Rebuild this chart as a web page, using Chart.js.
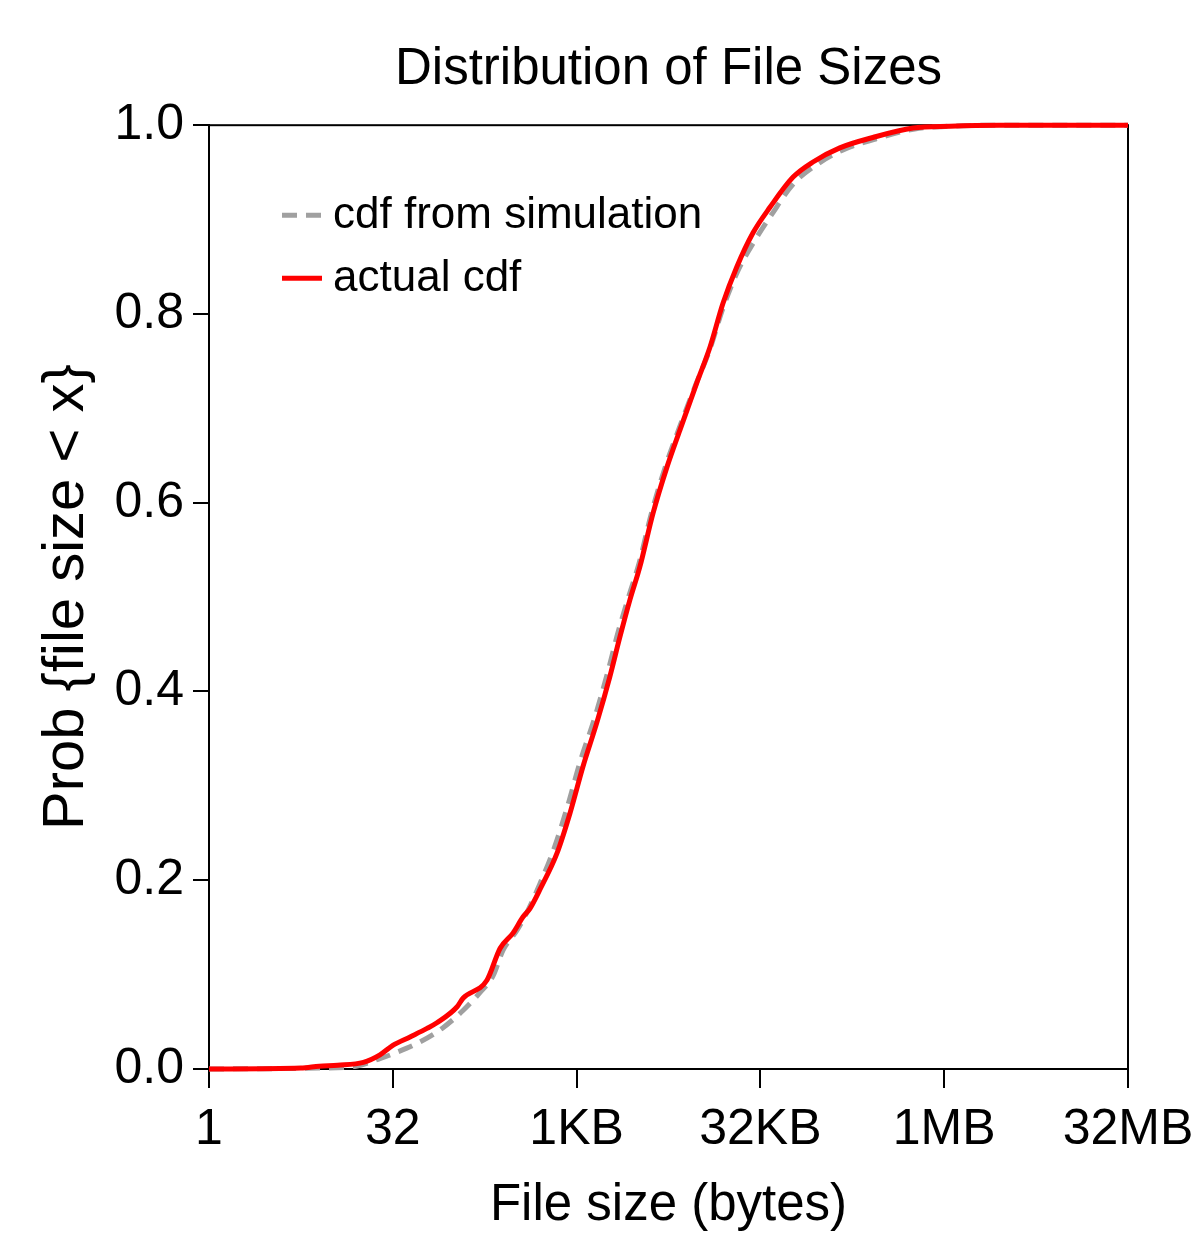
<!DOCTYPE html>
<html>
<head>
<meta charset="utf-8">
<title>Distribution of File Sizes</title>
<script src="https://cdn.jsdelivr.net/npm/chart.js@4.4.1/dist/chart.umd.min.js"></script>
<style>
    html, body { margin: 0; padding: 0; background: #fff; }
    #wrap { width: 1196px; height: 1236px; position: relative; }
</style>
</head>
<body>
<div id="wrap"><canvas id="cdfChart"></canvas></div>
<script>
// x values are log2(file size in bytes)
const tickExp = [0, 5, 10, 15, 20, 25];
const tickLabels = ['1', '32', '1KB', '32KB', '1MB', '32MB'];

// actual cdf (red)
const actualLog2 = [0, 2.5, 3.0, 3.5, 4.2, 4.65, 5.0, 5.47, 5.93, 6.2, 6.75, 6.91, 7.56, 7.92, 8.27, 8.54, 8.73, 9.0, 9.47, 9.82, 10.17, 10.55, 10.9, 11.18, 11.45, 11.72, 12.08, 12.46, 12.81, 13.27, 13.63, 13.98, 14.36, 14.8, 15.26, 15.89, 16.43, 17.16, 18.06, 19.15, 20.16, 21.5, 25];
const actualCdf = [0, 0.001, 0.003, 0.004, 0.007, 0.015, 0.025, 0.034, 0.043, 0.049, 0.066, 0.075, 0.094, 0.128, 0.144, 0.161, 0.170, 0.19, 0.229, 0.271, 0.320, 0.367, 0.415, 0.458, 0.497, 0.532, 0.589, 0.638, 0.677, 0.727, 0.765, 0.811, 0.85, 0.886, 0.913, 0.945, 0.961, 0.976, 0.987, 0.997, 0.999, 1.0, 1.0];

// cdf from simulation (grey dashed)
const simLog2 = [0, 3.0, 4.0, 4.65, 5.0, 5.71, 6.34, 6.91, 7.37, 7.73, 8.0, 8.38, 8.7, 9.0, 9.4, 9.75, 10.1, 10.5, 10.85, 11.13, 11.42, 11.7, 12.05, 12.43, 12.78, 13.24, 13.62, 13.98, 14.38, 14.85, 15.3, 15.9, 16.45, 17.2, 18.1, 19.2, 20.2, 21.5, 25];
const simCdf = [0, 0.001, 0.003, 0.011, 0.016, 0.028, 0.043, 0.062, 0.081, 0.099, 0.126, 0.147, 0.17, 0.196, 0.235, 0.278, 0.326, 0.373, 0.421, 0.463, 0.501, 0.536, 0.591, 0.640, 0.678, 0.725, 0.762, 0.806, 0.845, 0.878, 0.905, 0.938, 0.956, 0.973, 0.985, 0.996, 0.999, 1.0, 1.0];

const FONT = '"Liberation Sans", Arial, sans-serif';

function toPoints(xs, ys) {
    return xs.map((x, i) => ({ x: x, y: ys[i] }));
}

// box round the plot area
const framePlugin = {
    id: 'frame',
    beforeDatasetsDraw(chart) {
        const { ctx, chartArea: a } = chart;
        ctx.save();
        ctx.strokeStyle = '#000';
        ctx.lineWidth = 2;
        ctx.strokeRect(a.left, a.top, a.right - a.left, a.bottom - a.top);
        ctx.restore();
    }
};

// legend drawn inside the plot, top left
const insideLegend = {
    id: 'insideLegend',
    afterDatasetsDraw(chart) {
        const { ctx, chartArea: a } = chart;
        const rows = [chart.data.datasets[0], chart.data.datasets[1]];
        ctx.save();
        ctx.font = '44px ' + FONT;
        ctx.textBaseline = 'middle';
        ctx.fillStyle = '#000';
        rows.forEach((ds, i) => {
            const y = a.top + 90 + i * 63;
            ctx.strokeStyle = ds.borderColor;
            ctx.lineWidth = ds.borderWidth;
            ctx.setLineDash(ds.borderDash || []);
            ctx.beginPath();
            ctx.moveTo(a.left + 73, y);
            ctx.lineTo(a.left + 113, y);
            ctx.stroke();
            ctx.fillText(ds.label, a.left + 124, y + 1);
        });
        ctx.restore();
    }
};

const ctx = document.getElementById('cdfChart').getContext('2d');
new Chart(ctx, {
    type: 'line',
    data: {
        datasets: [{
            label: 'cdf from simulation',
            data: toPoints(simLog2, simCdf),
            borderColor: '#a0a0a0',
            borderWidth: 5,
            borderDash: [15, 9],
            pointRadius: 0,
            cubicInterpolationMode: 'monotone',
            order: 2,
            clip: false
        }, {
            label: 'actual cdf',
            data: toPoints(actualLog2, actualCdf),
            borderColor: '#ff0000',
            borderWidth: 5,
            pointRadius: 0,
            cubicInterpolationMode: 'monotone',
            order: 1,
            clip: false
        }]
    },
    options: {
        responsive: true,
        maintainAspectRatio: false,
        animation: false,
        events: [],
        layout: { padding: { left: 0, right: 68, top: 0, bottom: 0 } },
        plugins: {
            legend: { display: false },
            tooltip: { enabled: false },
            title: {
                display: true,
                fullSize: false,
                text: 'Distribution of File Sizes',
                color: '#000',
                font: { family: FONT, size: 51, weight: 'normal' },
                padding: { top: 39, bottom: 25 }
            }
        },
        scales: {
            x: {
                type: 'linear',
                min: 0,
                max: 25,
                afterBuildTicks: scale => { scale.ticks = tickExp.map(v => ({ value: v })); },
                afterFit: scale => { scale.height = 167; },
                ticks: {
                    color: '#000',
                    padding: 0,
                    maxRotation: 0,
                    autoSkip: false,
                    font: { family: FONT, size: 50, lineHeight: 1.68 },
                    callback: (v) => tickLabels[tickExp.indexOf(v)]
                },
                grid: { drawOnChartArea: false, tickLength: 19, color: '#000', lineWidth: 2 },
                border: { color: '#000', width: 2 },
                title: {
                    display: true,
                    text: 'File size (bytes)',
                    color: '#000',
                    font: { family: FONT, size: 51, lineHeight: 1 },
                    padding: { top: 0, bottom: 5 }
                }
            },
            y: {
                min: 0,
                max: 1,
                afterFit: scale => { scale.width = 209; },
                ticks: {
                    color: '#000',
                    stepSize: 0.2,
                    padding: 9,
                    font: { family: FONT, size: 50 },
                    callback: v => v.toFixed(1)
                },
                grid: { drawOnChartArea: false, tickLength: 16, color: '#000', lineWidth: 2 },
                border: { color: '#000', width: 2 },
                title: {
                    display: true,
                    text: 'Prob {file size < x}',
                    color: '#000',
                    font: { family: FONT, size: 58, lineHeight: 1 },
                    padding: { top: 38, bottom: 0 }
                }
            }
        }
    },
    plugins: [framePlugin, insideLegend]
});
</script>
</body>
</html>
